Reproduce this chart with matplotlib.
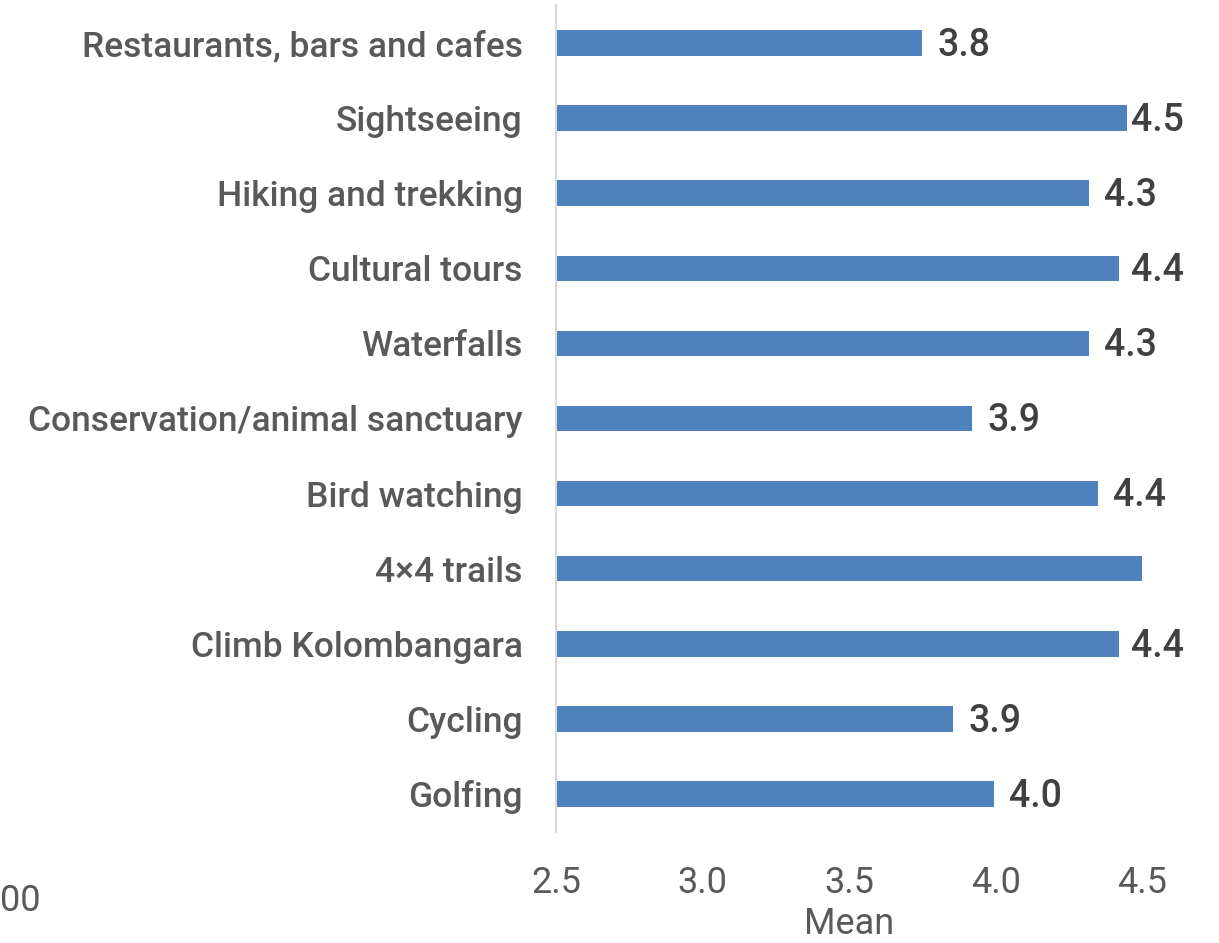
import matplotlib
matplotlib.use("Agg")
import matplotlib.pyplot as plt

categories = ["Restaurants, bars and cafes", "Sightseeing", "Hiking and trekking",
              "Cultural tours", "Waterfalls", "Conservation/animal sanctuary",
              "Bird watching", "4\u00d74 trails", "Climb Kolombangara", "Cycling", "Golfing"]
values = [3.75, 4.45, 4.32, 4.42, 4.32, 3.92, 4.35, 4.50, 4.42, 3.855, 3.995]
value_labels = ["3.8", "4.5", "4.3", "4.4", "4.3", "3.9", "4.4", "", "4.4", "3.9", "4.0"]
xticks = [2.5, 3.0, 3.5, 4.0, 4.5]
xtick_labels = ["2.5", "3.0", "3.5", "4.0", "4.5"]

W, H = 1219, 943
fig = plt.figure(figsize=(W / 100, H / 100), dpi=100)
ax = fig.add_axes([556 / W, 1 - 831.5 / H, (1142 - 556) / W, (831.5 - 5.5) / H])

y = list(range(len(categories)))
ax.barh(y, [v - 2.5 for v in values], left=2.5, height=0.34, color="#4F81BD", zorder=2)
ax.set_xlim(2.5, 4.5)
ax.set_ylim(len(categories) - 0.5, -0.5)

ax.set_yticks(y)
ax.set_yticklabels(categories, fontsize=25.5, color="#595959", family="Roboto", fontweight="medium")
ax.set_xticks(xticks)
ax.set_xticklabels(xtick_labels, fontsize=26, color="#595959", family="Roboto")
ax.tick_params(axis="y", length=0, pad=24)
ax.tick_params(axis="x", length=0, pad=24)
ax.set_xlabel("Mean", fontsize=26, color="#595959", family="Roboto", labelpad=4)

for s in ["top", "right", "bottom"]:
    ax.spines[s].set_visible(False)
ax.spines["left"].set_color("#D9D9D9")
ax.spines["left"].set_linewidth(1.5)

for yi, v, lab in zip(y, values, value_labels):
    if lab:
        x = min(v + 0.052, 4.462)
        ax.text(x, yi + 0.03, lab, va="center", ha="left", fontsize=27, color="#404040",
                family="Roboto", fontweight="medium", clip_on=False)

fig.text(0, 1 - 901 / H, "00", fontsize=26, color="#595959", family="Roboto",
         ha="left", va="center")

fig.savefig("out.png", dpi=100)
